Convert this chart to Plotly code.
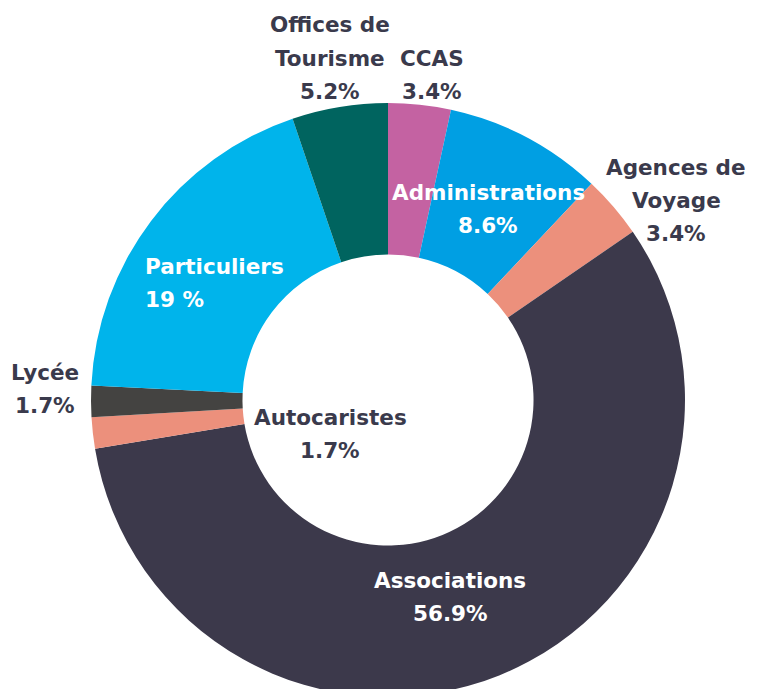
import plotly.graph_objects as go

categories = ["CCAS", "Administrations", "Agences de Voyage", "Associations",
              "Autocaristes", "Lycée", "Particuliers", "Offices de Tourisme"]
values = [3.4, 8.6, 3.4, 56.9, 1.7, 1.7, 19.0, 5.2]
value_labels = ["3.4%", "8.6%", "3.4%", "56.9%", "1.7%", "1.7%", "19 %", "5.2%"]
colors = ["#C462A2", "#009FE3", "#EC907C", "#3C394B",
          "#EC907C", "#444341", "#00B4EB", "#00645F"]

W, H = 757, 689
OFF = 8  # page body margin offset
cx, cy, R = 388 - OFF, 400 - OFF, 297

fig = go.Figure(go.Pie(
    labels=categories, values=values, sort=False, direction="clockwise",
    rotation=0, hole=0.49, textinfo="none", hoverinfo="label+percent",
    marker=dict(colors=colors, line=dict(width=0)),
    domain=dict(x=[(cx - R) / W, (cx + R) / W],
                y=[max(0, (H - cy - R) / H), (H - cy + R) / H]),
    showlegend=False,
))

DARK = "#3A3A4C"
# label blocks: (lines, x, y_first_line, color, align)
label_blocks = [
    (["Offices de", "Tourisme", value_labels[7]], 330, 25, DARK, "center"),
    (["CCAS", value_labels[0]], 432, 58, DARK, "center"),
    (["Administrations", value_labels[1]], 488, 192, "white", "center"),
    (["Agences de", "Voyage", value_labels[2]], 676, 167, DARK, "center"),
    (["Associations", value_labels[3]], 450, 580, "white", "center"),
    (["Autocaristes", value_labels[4]], 330, 417, DARK, "center"),
    (["Lycée", value_labels[5]], 45, 372, DARK, "center"),
    (["Particuliers", value_labels[6]], 143, 267, "white", "left"),
]
for lines, x, y0, col, align in label_blocks:
    for i, t in enumerate(lines):
        fig.add_annotation(
            x=(x - OFF) / W, y=1 - (y0 - OFF + 33 * i) / H, xref="paper", yref="paper",
            text=f"<b>{t}</b>", showarrow=False,
            xanchor="left" if align == "left" else "center", yanchor="middle",
            font=dict(family="DejaVu Sans", size=21.5, color=col),
        )

fig.update_layout(width=W, height=H, margin=dict(l=0, r=0, t=0, b=0),
                  paper_bgcolor="white", plot_bgcolor="white")
fig.write_html("out.html")
